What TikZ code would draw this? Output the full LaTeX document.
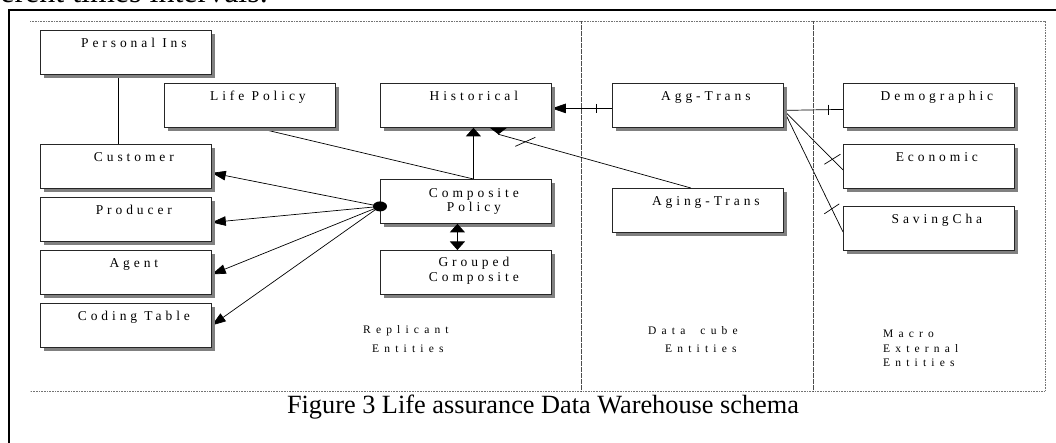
\documentclass[tikz,border=0pt]{standalone}
\usepackage{fontspec}
\setmainfont{Liberation Serif}
\usetikzlibrary{arrows.meta,shadows,calc,shapes.geometric}
\pgfdeclarelayer{bg}
\pgfsetlayers{bg,main}

\tikzset{
  entity/.style={rectangle, draw=black!85, line width=0.8pt, fill=white, inner sep=0pt,
    minimum width=171pt, minimum height=44pt, anchor=north west,
    drop shadow={shadow xshift=3.5pt, shadow yshift=-3.5pt, fill=black!50, opacity=1}},
  etext/.style={font=\fontsize{13.5}{15}\selectfont\addfontfeature{LetterSpace=29},
    inner sep=0pt, anchor=base},
  region/.style={font=\fontsize{11.5}{13}\selectfont\addfontfeature{LetterSpace=45},
    inner sep=0pt, anchor=base west},
  link/.style={line width=0.7pt, black},
  tip/.style={-{Triangle[length=14pt,width=9.5pt]}},
  tick/.style={line width=0.7pt, black},
  zone/.style={line width=0.6pt, black!55, dash pattern=on 0.7pt off 0.9pt},
  divider/.style={line width=0.7pt, black!70, dash pattern=on 0.6pt off 0.6pt},
  hubdot/.style={ellipse, fill=black, inner sep=0pt, minimum width=14pt, minimum height=10pt},
}

\begin{document}
\begin{tikzpicture}[x=1pt,y=-1pt]
\useasboundingbox (0,0) rectangle (1056,443);

% running text above the figure frame
\node[font=\fontsize{32}{36}\selectfont, anchor=base east, inner sep=0pt] (lead) at (268,3) {different times intervals.};

% figure frame
\draw[line width=2.2pt] (8.7,443) -- (8.7,10.3) -- (1056,10.3);

% zone outline and dividers
\draw[zone] (30,21) -- (1045,21) -- (1045,391) -- (30,391);
\draw[divider] (581,21) -- (581,391);
\draw[divider] (813,21) -- (813,391);

% entity boxes
\node[entity] (pers)   at (40,30)   {};
\node[entity] (life)   at (164,83)  {};
\node[entity] (hist)   at (380,83)  {};
\node[entity] (agg)    at (612,83)  {};
\node[entity] (demo)   at (843,83)  {};
\node[entity] (cust)   at (40,144)  {};
\node[entity] (econ)   at (843,144) {};
\node[entity] (prod)   at (40,197)  {};
\node[entity] (comp)   at (380,179) {};
\node[entity] (aging)  at (612,188) {};
\node[entity] (save)   at (843,206) {};
\node[entity] (agent)  at (40,250)  {};
\node[entity] (group)  at (380,250) {};
\node[entity] (coding) at (40,303)  {};

% box titles
\node[etext] (pers-t)   at ([xshift=8pt,yshift=-17.7pt]pers.north)   {Personal Ins};
\node[etext] (life-t)   at ([xshift=8pt,yshift=-17.7pt]life.north)   {Life Policy};
\node[etext] (hist-t)   at ([xshift=8pt,yshift=-17.7pt]hist.north)   {Historical};
\node[etext] (agg-t)    at ([xshift=8pt,yshift=-17.7pt]agg.north)    {Agg-Trans};
\node[etext] (demo-t)   at ([xshift=8pt,yshift=-17.7pt]demo.north)   {Demographic};
\node[etext] (cust-t)   at ([xshift=8pt,yshift=-17.7pt]cust.north)   {Customer};
\node[etext] (econ-t)   at ([xshift=8pt,yshift=-17.7pt]econ.north)   {Economic};
\node[etext] (prod-t)   at ([xshift=8pt,yshift=-17.7pt]prod.north)   {Producer};
\node[etext] (comp-t1)  at ([xshift=8pt,yshift=-18.5pt]comp.north)   {Composite};
\node[etext] (comp-t2)  at ([xshift=8pt,yshift=-33pt]comp.north)     {Policy};
\node[etext] (aging-t)  at ([xshift=8pt,yshift=-17.7pt]aging.north)  {Aging-Trans};
\node[etext] (save-t)   at ([xshift=8pt,yshift=-17.7pt]save.north)   {SavingCha};
\node[etext] (agent-t)  at ([xshift=8pt,yshift=-17.7pt]agent.north)  {Agent};
\node[etext] (group-t1) at ([xshift=8pt,yshift=-17pt]group.north)    {Grouped};
\node[etext] (group-t2) at ([xshift=8pt,yshift=-32pt]group.north)    {Composite};
\node[etext] (coding-t) at ([xshift=8pt,yshift=-17.7pt]coding.north) {Coding Table};

% zone captions
\node[region] (rep1)   at (363,333) {Replicant};
\node[region] (rep2)   at (372,352) {Entities};
\node[region] (cube1)  at (648,334) {Data\hspace{7pt} cube};
\node[region] (cube2)  at (665,352) {Entities};
\node[region] (macro1) at (883,337) {Macro};
\node[region] (macro2) at (883,352) {External};
\node[region] (macro3) at (883,366) {Entities};

% composite hub
\node[hubdot] (hub) at ([yshift=-5pt]comp.west) {};

% plain relationship lines, kept behind the boxes and their shadows
\begin{pgfonlayer}{bg}
  \draw[link] ([xshift=-7.5pt]pers.south) -- ([xshift=-7.5pt]cust.north);
  \draw[link] ([xshift=7pt]life.south) -- ([xshift=7.5pt]comp.north);

  \draw[link, tip] (hub.center) -- ([yshift=-6.5pt]cust.east);
  \draw[link, tip] (hub.center) -- ([yshift=-3pt]prod.east);
  \draw[link, tip] (hub.center) -- ([yshift=-2pt]agent.east);
  \draw[link, tip] (hub.center) -- (coding.east);

  \draw[link, tip] ([yshift=-3pt]agg.west) -- coordinate[pos=0.26] (t2) ([yshift=-3pt]hist.east);

  \draw[link] ([yshift=-5pt]agg.east) -- coordinate[pos=0.75] (t3) ([yshift=-4pt]demo.west);
  \draw[link] ([yshift=-5pt]agg.east) -- coordinate[pos=0.82] (t4) (econ.south west |- 0,170);
  \draw[link] ([yshift=-5pt]agg.east) -- coordinate[pos=0.81] (t5) (save.south west |- 0,232);
\end{pgfonlayer}

% arrows whose heads sit over the shadows
\draw[link, -{Triangle[length=8.5pt,width=15pt]}] ([xshift=7.5pt]comp.north) -- ([xshift=7.5pt]hist.south);
\draw[link, {Triangle[length=8.5pt,width=15pt]}-{Triangle[length=8.5pt,width=15pt]}]
  ([xshift=-8.5pt]comp.south) -- ([xshift=-8.5pt]group.north);
\draw[link, {Triangle[reversed,length=6.5pt,width=17pt]}-]
  ([xshift=32.5pt]hist.south) -- ([xshift=32.5pt,yshift=-6.5pt]hist.south)
  -- coordinate[pos=0.14] (t1) ([xshift=-7pt]aging.north);

% cardinality ticks
\draw[tick] ($(t1)+(-10,4.5)$) -- ($(t1)+(10,-4.5)$);
\draw[tick] ($(t2)+(0,-4.5)$) -- ($(t2)+(0,4.5)$);
\draw[tick] ($(t3)+(0,-5)$) -- ($(t3)+(0,5)$);
\draw[tick] ($(t4)+(-8,5)$) -- ($(t4)+(8,-5)$);
\draw[tick] ($(t5)+(-7.5,5)$) -- ($(t5)+(7.5,-5)$);

% figure caption
\node[font=\fontsize{26.3}{30}\selectfont, anchor=base, inner sep=0pt] (caption) at (543,413)
  {Figure 3 Life assurance Data Warehouse schema};
\end{tikzpicture}
\end{document}
